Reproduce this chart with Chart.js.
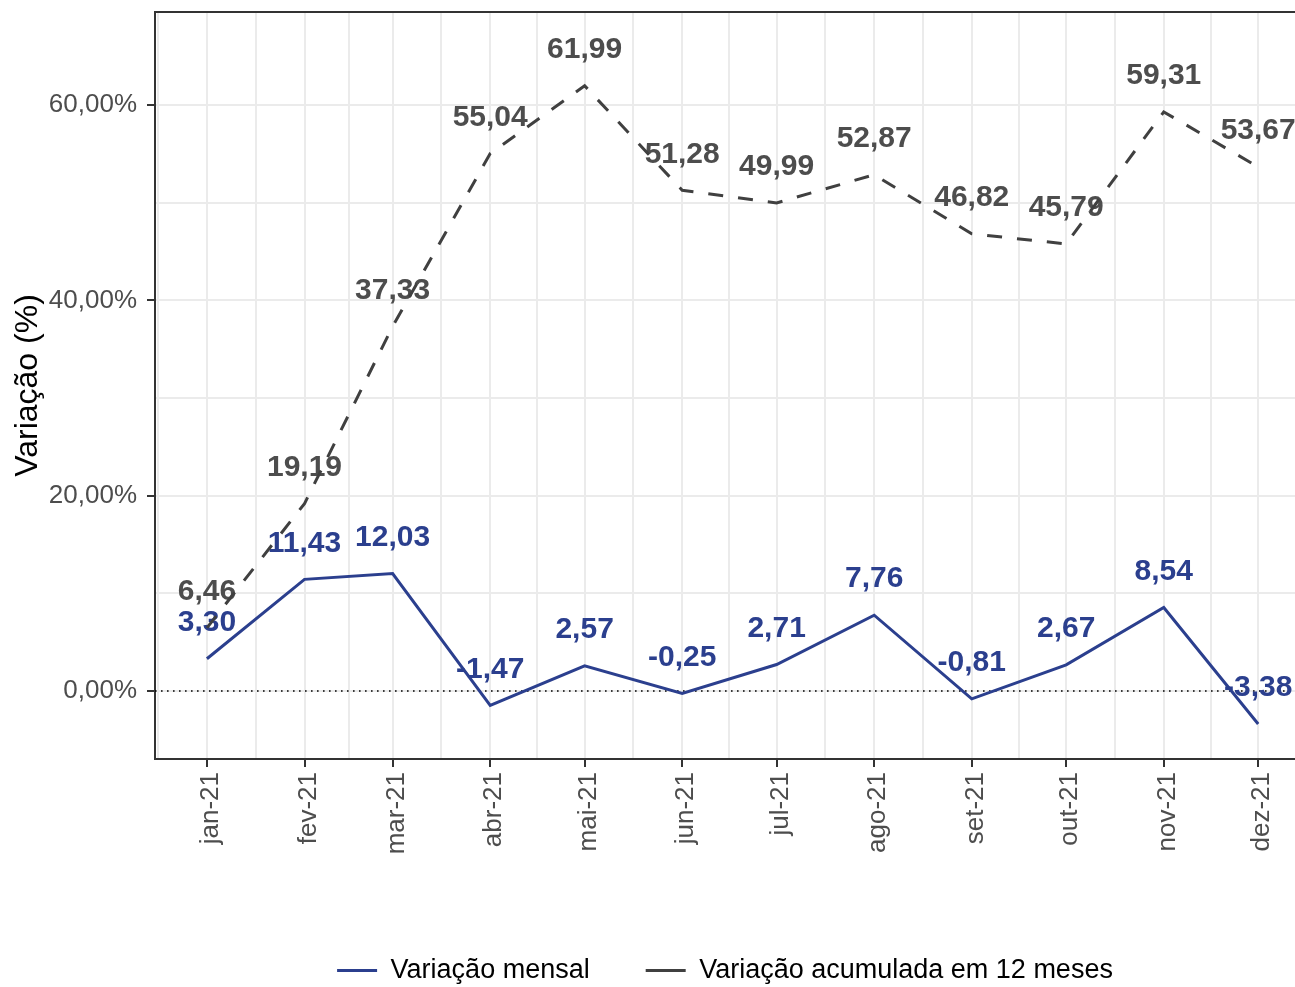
<!DOCTYPE html>
<html>
<head>
<meta charset="utf-8">
<script src="https://cdn.jsdelivr.net/npm/chart.js@4.4.0/dist/chart.umd.min.js"></script>
<style>
  html, body { margin: 0; padding: 0; background: #fff; overflow: hidden; }
  #wrap { width: 1295px; height: 994px; }
</style>
</head>
<body>
<div id="wrap"><canvas id="grafico" width="1295" height="994"></canvas></div>
<script>
// dados (dia do ano de 2021 para o 1o dia de cada mes)
const meses = ["jan-21","fev-21","mar-21","abr-21","mai-21","jun-21","jul-21","ago-21","set-21","out-21","nov-21","dez-21"]
const diaDoAno = [0,31,59,90,120,151,181,212,243,273,304,334]
const diasMenores = [-15.5,15.5,45,74.5,105,135.5,166,196.5,227.5,258,288.5,319]
const varMensal = [3.30,11.43,12.03,-1.47,2.57,-0.25,2.71,7.76,-0.81,2.67,8.54,-3.38]
const varAcumulada = [6.46,19.19,37.33,55.04,61.99,51.28,49.99,52.87,46.82,45.79,59.31,53.67]
const yMaiores = [0,20,40,60]
const yMenores = [10,30,50]
const linhaZero = 0

const azul = '#2B3F8E'
const cinza = '#404040'
const fonte = "'Liberation Sans', Arial, sans-serif"

function pontos(valores){
    return diaDoAno.map(function(d, i){ return {x: d, y: valores[i]} })
}
function virgula(v){ return v.toFixed(2).replace('.', ',') }

// linha pontilhada no zero + rotulos dos pontos (antes das linhas)
const rotulos = {
    id: 'rotulos',
    beforeDatasetsDraw(chart){
        const ctx = chart.ctx
        const area = chart.chartArea
        const y0 = chart.scales.y.getPixelForValue(linhaZero)
        ctx.save()
        ctx.strokeStyle = '#000'
        ctx.lineWidth = 1.6
        ctx.setLineDash([1.6, 4.4])
        ctx.beginPath()
        ctx.moveTo(area.left, y0)
        ctx.lineTo(area.right, y0)
        ctx.stroke()
        ctx.setLineDash([])
        ctx.font = 'bold 30px ' + fonte
        ctx.textAlign = 'center'
        ctx.textBaseline = 'middle'
        chart.data.datasets.forEach(function(ds, i){
            const meta = chart.getDatasetMeta(i)
            ctx.fillStyle = ds.corRotulo
            meta.data.forEach(function(p, j){
                ctx.fillText(virgula(ds.data[j].y), p.x, p.y - 36)
            })
        })
        ctx.restore()
    },
    afterDraw(chart){
        const ctx = chart.ctx
        const area = chart.chartArea
        ctx.save()
        ctx.strokeStyle = '#333333'
        ctx.lineWidth = 2
        ctx.beginPath()
        ctx.moveTo(area.left - 1, area.top)
        ctx.lineTo(area.right, area.top)
        ctx.stroke()
        ctx.restore()
    }
}

function crearGrafico(){
    const g = document.getElementById('grafico').getContext('2d')
    new Chart(g, {
        type: 'line',
        data: {
            datasets: [
                {
                    label: 'Variação mensal',
                    data: pontos(varMensal),
                    borderColor: azul,
                    corRotulo: azul,
                    borderWidth: 3,
                    pointRadius: 0,
                    tension: 0
                },
                {
                    label: 'Variação acumulada em 12 meses',
                    data: pontos(varAcumulada),
                    borderColor: cinza,
                    corRotulo: '#4D4D4D',
                    borderWidth: 3,
                    borderDash: [15, 15],
                    pointRadius: 0,
                    tension: 0
                }
            ]
        },
        options: {
            responsive: false,
            maintainAspectRatio: false,
            animation: false,
            layout: { padding: { top: 12, left: 0, right: 0, bottom: 0 } },
            scales: {
                x: {
                    type: 'linear',
                    min: -16.5,
                    max: 345.7,
                    afterBuildTicks(s){
                        s.ticks = diaDoAno.concat(diasMenores).sort(function(a, b){ return a - b }).map(function(v){ return {value: v} })
                    },
                    afterFit(s){
                        s.height = 142
                        s.paddingLeft = 0
                        s.paddingRight = 0
                    },
                    ticks: {
                        autoSkip: false,
                        minRotation: 90,
                        maxRotation: 90,
                        padding: 5,
                        labelOffset: 4,
                        color: '#4D4D4D',
                        font: { family: fonte, size: 26 },
                        callback(v){
                            const i = diaDoAno.indexOf(v)
                            return i >= 0 ? meses[i] : ''
                        }
                    },
                    grid: {
                        color: '#EBEBEB',
                        lineWidth: 2,
                        tickLength: 8,
                        tickWidth: 2,
                        tickColor(c){ return diaDoAno.includes(c.tick.value) ? '#333333' : 'rgba(0,0,0,0)' }
                    },
                    border: { color: '#333333', width: 2 }
                },
                y: {
                    min: -6.97,
                    max: 69.54,
                    afterBuildTicks(s){
                        s.ticks = yMaiores.concat(yMenores).sort(function(a, b){ return a - b }).map(function(v){ return {value: v} })
                    },
                    afterFit(s){
                        s.width = 155
                        s.paddingTop = 0
                        s.paddingBottom = 0
                    },
                    ticks: {
                        padding: 10,
                        color: '#4D4D4D',
                        font: { family: fonte, size: 26 },
                        callback(v){ return yMaiores.includes(v) ? virgula(v) + '%' : '' }
                    },
                    grid: {
                        color: '#EBEBEB',
                        lineWidth: 2,
                        tickLength: 8,
                        tickWidth: 2,
                        tickColor(c){ return yMaiores.includes(c.tick.value) ? '#333333' : 'rgba(0,0,0,0)' }
                    },
                    border: { color: '#333333', width: 2 },
                    title: {
                        display: true,
                        text: 'Variação (%)',
                        color: '#000',
                        font: { family: fonte, size: 32 },
                        padding: { top: 9, bottom: 0 }
                    }
                }
            },
            plugins: {
                tooltip: { enabled: false },
                legend: {
                    position: 'bottom',
                    fullSize: false,
                    labels: {
                        boxWidth: 40,
                        boxHeight: 3,
                        padding: 56,
                        color: '#1A1A1A',
                        font: { family: fonte, size: 27 },
                        generateLabels(chart){
                            return chart.data.datasets.map(function(ds, i){
                                return { text: ds.label, fillStyle: ds.borderColor, strokeStyle: ds.borderColor, lineWidth: 0, datasetIndex: i }
                            })
                        }
                    }
                }
            }
        },
        plugins: [rotulos]
    })
}
document.addEventListener('DOMContentLoaded', crearGrafico)
</script>
</body>
</html>
